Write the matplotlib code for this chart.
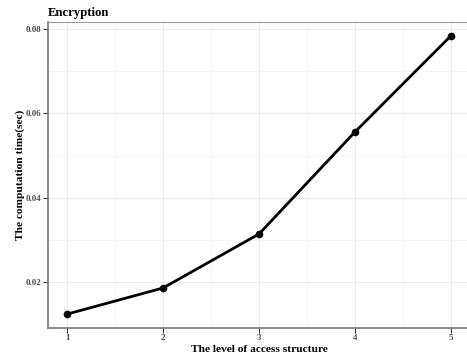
import matplotlib
matplotlib.use("Agg")
import matplotlib.pyplot as plt
from matplotlib.ticker import MultipleLocator

levels = [1, 2, 3, 4, 5]
times = [0.0124, 0.0186, 0.0314, 0.0556, 0.0784]
xticks = [1, 2, 3, 4, 5]
yticks = [0.02, 0.04, 0.06, 0.08]
ytick_labels = ["0.02", "0.04", "0.06", "0.08"]

plt.rcParams['font.family'] = ['Liberation Serif', 'DejaVu Serif']

W, H = 467, 356
fig = plt.figure(figsize=(W/100, H/100), dpi=100)
left, right, top, bottom = 48, 470, 22, 328
ax = fig.add_axes([left/W, 1 - bottom/H, (right-left)/W, (bottom-top)/H])

ax.plot(levels, times, color='black', lw=2, marker='o', ms=4.5, zorder=3)

ax.set_xlim(0.8, 5.2)
ax.set_ylim(0.0091, 0.0817)
ax.set_xticks(xticks)
ax.set_xticklabels([str(v) for v in xticks])
ax.set_yticks(yticks)
ax.set_yticklabels(ytick_labels)
ax.xaxis.set_minor_locator(MultipleLocator(0.5))
ax.yaxis.set_minor_locator(MultipleLocator(0.01))
ax.grid(which='major', color='#ebebeb', lw=0.8)
ax.grid(which='minor', color='#f4f4f4', lw=0.6)
ax.set_axisbelow(True)
ax.tick_params(which='minor', length=0)
ax.tick_params(which='major', length=3.5, width=0.8, color='#333333',
               labelsize=6.5, labelcolor='#4d4d4d', pad=1)
for lab in ax.get_xticklabels() + ax.get_yticklabels():
    lab.set_fontweight('bold')

for s in ['top', 'right']:
    ax.spines[s].set_color('#999999')
    ax.spines[s].set_linewidth(0.8)
for s in ['left', 'bottom']:
    ax.spines[s].set_color('#777777')
    ax.spines[s].set_linewidth(1.2)

ax.set_xlabel('The level of access structure', fontsize=8.2, fontweight='bold', labelpad=2)
ax.set_ylabel('The computation time(sec)', fontsize=8.2, fontweight='bold')
ax.yaxis.set_label_coords((25 - left) / (right - left), 0.5)
ax.set_title('Encryption', fontsize=9.2, fontweight='bold', loc='left', pad=4)

fig.savefig('out.png', dpi=100)
